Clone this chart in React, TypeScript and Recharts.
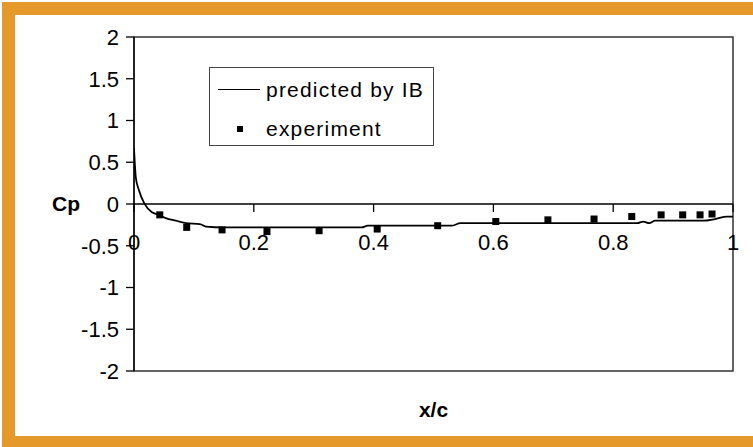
import React from "react";
import {
  ComposedChart,
  Line,
  Scatter,
  XAxis,
  YAxis,
  ReferenceLine,
  ReferenceArea,
} from "recharts";

// predicted by IB (x/c, Cp)
const predX = [0, 0.003, 0.008, 0.017, 0.03, 0.042, 0.053, 0.07, 0.087, 0.11, 0.12, 0.15, 0.38, 0.39, 0.53, 0.545, 0.84, 0.85, 0.86, 0.87, 0.95, 0.97, 0.99, 1];
const predCp = [0.67, 0.32, 0.17, 0.01, -0.1, -0.13, -0.17, -0.2, -0.23, -0.24, -0.27, -0.28, -0.28, -0.26, -0.26, -0.23, -0.23, -0.21, -0.23, -0.2, -0.2, -0.18, -0.15, -0.15];

// experiment
const expX = [0.043, 0.088, 0.147, 0.222, 0.309, 0.406, 0.507, 0.604, 0.691, 0.768, 0.831, 0.88, 0.916, 0.945, 0.965];
const expCp = [-0.13, -0.28, -0.31, -0.33, -0.32, -0.3, -0.26, -0.21, -0.19, -0.18, -0.15, -0.13, -0.13, -0.13, -0.12];

const xTicks = [0, 0.2, 0.4, 0.6, 0.8, 1];
const yTicks = [-2, -1.5, -1, -0.5, 0, 0.5, 1, 1.5, 2];

const predicted = predX.map((x, i) => ({ x, cp: predCp[i] }));
const experiment = expX.map((x, i) => ({ x, cp: expCp[i] }));

const W = 753;
const H = 447;
const M = { top: 37, right: 20, left: 74, bottom: 26 };
const X_AXIS_H = 50;
const PLOT_H = H - M.top - M.bottom - X_AXIS_H;
const FONT = "'Liberation Sans', Arial, sans-serif";
const ORANGE = "#E6992B";

// x ticks sit on the Cp = 0 line, not on the bottom of the plot
const XTick = (props: any) => {
  const { x, y, payload } = props;
  const y0 = y - PLOT_H / 2;
  return (
    <g>
      <line x1={x} x2={x} y1={y0} y2={y0 + 8} stroke="#000" strokeWidth={1.3} />
      <text x={x} y={y0 + 38} textAnchor="middle" dominantBaseline="central" fontSize={22} fontFamily={FONT} fill="#000">
        {payload.value}
      </text>
    </g>
  );
};

const Square = (props: any) => {
  const { cx, cy } = props;
  return <rect x={cx - 3.5} y={cy - 3.5} width={7} height={7} fill="#000" />;
};

const LegendBox = () => (
  <div
    style={{
      position: "absolute",
      left: 209,
      top: 67,
      border: "1.5px solid #444",
      background: "#fff",
      width: 225,
      height: 79,
      boxSizing: "border-box",
      fontFamily: FONT,
      fontSize: 21,
      letterSpacing: 1.2,
      color: "#000",
    }}
  >
    <div style={{ position: "absolute", left: 8, top: 21, width: 42, borderTop: "1.8px solid #000" }} />
    <div style={{ position: "absolute", left: 56, top: 8, lineHeight: "28px", whiteSpace: "nowrap" }}>predicted by IB</div>
    <div style={{ position: "absolute", left: 27, top: 58, width: 6, height: 6, background: "#000" }} />
    <div style={{ position: "absolute", left: 56, top: 47, lineHeight: "28px", whiteSpace: "nowrap" }}>experiment</div>
  </div>
);

export default function App() {
  return (
    <div style={{ position: "absolute", left: 0, top: 0, width: W, height: H, background: "#fff", overflow: "hidden" }}>
      <div style={{ position: "absolute", left: 2, top: 2, width: W - 2, height: 13, background: ORANGE }} />
      <div style={{ position: "absolute", left: 2, top: 2, width: 13, height: H - 2, background: ORANGE }} />
      <div style={{ position: "absolute", left: 2, top: H - 11, width: W - 2, height: 11, background: ORANGE }} />
      <div style={{ position: "absolute", left: 0, top: 0 }}>
        <ComposedChart width={W} height={H} margin={M}>
          <XAxis
            dataKey="x"
            type="number"
            domain={[0, 1]}
            ticks={xTicks}
            axisLine={false}
            tickLine={false}
            tickSize={0}
            tickMargin={0}
            height={X_AXIS_H}
            tick={<XTick />}
            allowDataOverflow
            label={{ value: "x/c", position: "insideBottom", offset: 4, fontSize: 21, fontWeight: "bold", fill: "#000", fontFamily: FONT }}
          />
          <YAxis
            type="number"
            domain={[-2, 2]}
            ticks={yTicks}
            width={60}
            axisLine={{ stroke: "#000", strokeWidth: 1.3 }}
            tickLine={{ stroke: "#000", strokeWidth: 1.3 }}
            tickSize={8}
            tickMargin={7}
            tick={{ fontSize: 22, fill: "#000", fontFamily: FONT }}
            allowDataOverflow
            label={{ value: "Cp", position: "insideLeft", offset: -22, fontSize: 21, fontWeight: "bold", fill: "#000", fontFamily: FONT }}
          />
          <ReferenceArea x1={0} x2={1} y1={-2} y2={2} fill="none" stroke="#333" strokeWidth={1.5} />
          <ReferenceLine y={0} stroke="#000" strokeWidth={1.3} />
          <Line
            data={predicted}
            dataKey="cp"
            name="predicted by IB"
            type="monotone"
            stroke="#000"
            strokeWidth={1.8}
            dot={false}
            isAnimationActive={false}
          />
          <Scatter
            data={experiment}
            dataKey="cp"
            name="experiment"
            shape={<Square />}
            isAnimationActive={false}
          />
        </ComposedChart>
      </div>
      <LegendBox />
    </div>
  );
}
